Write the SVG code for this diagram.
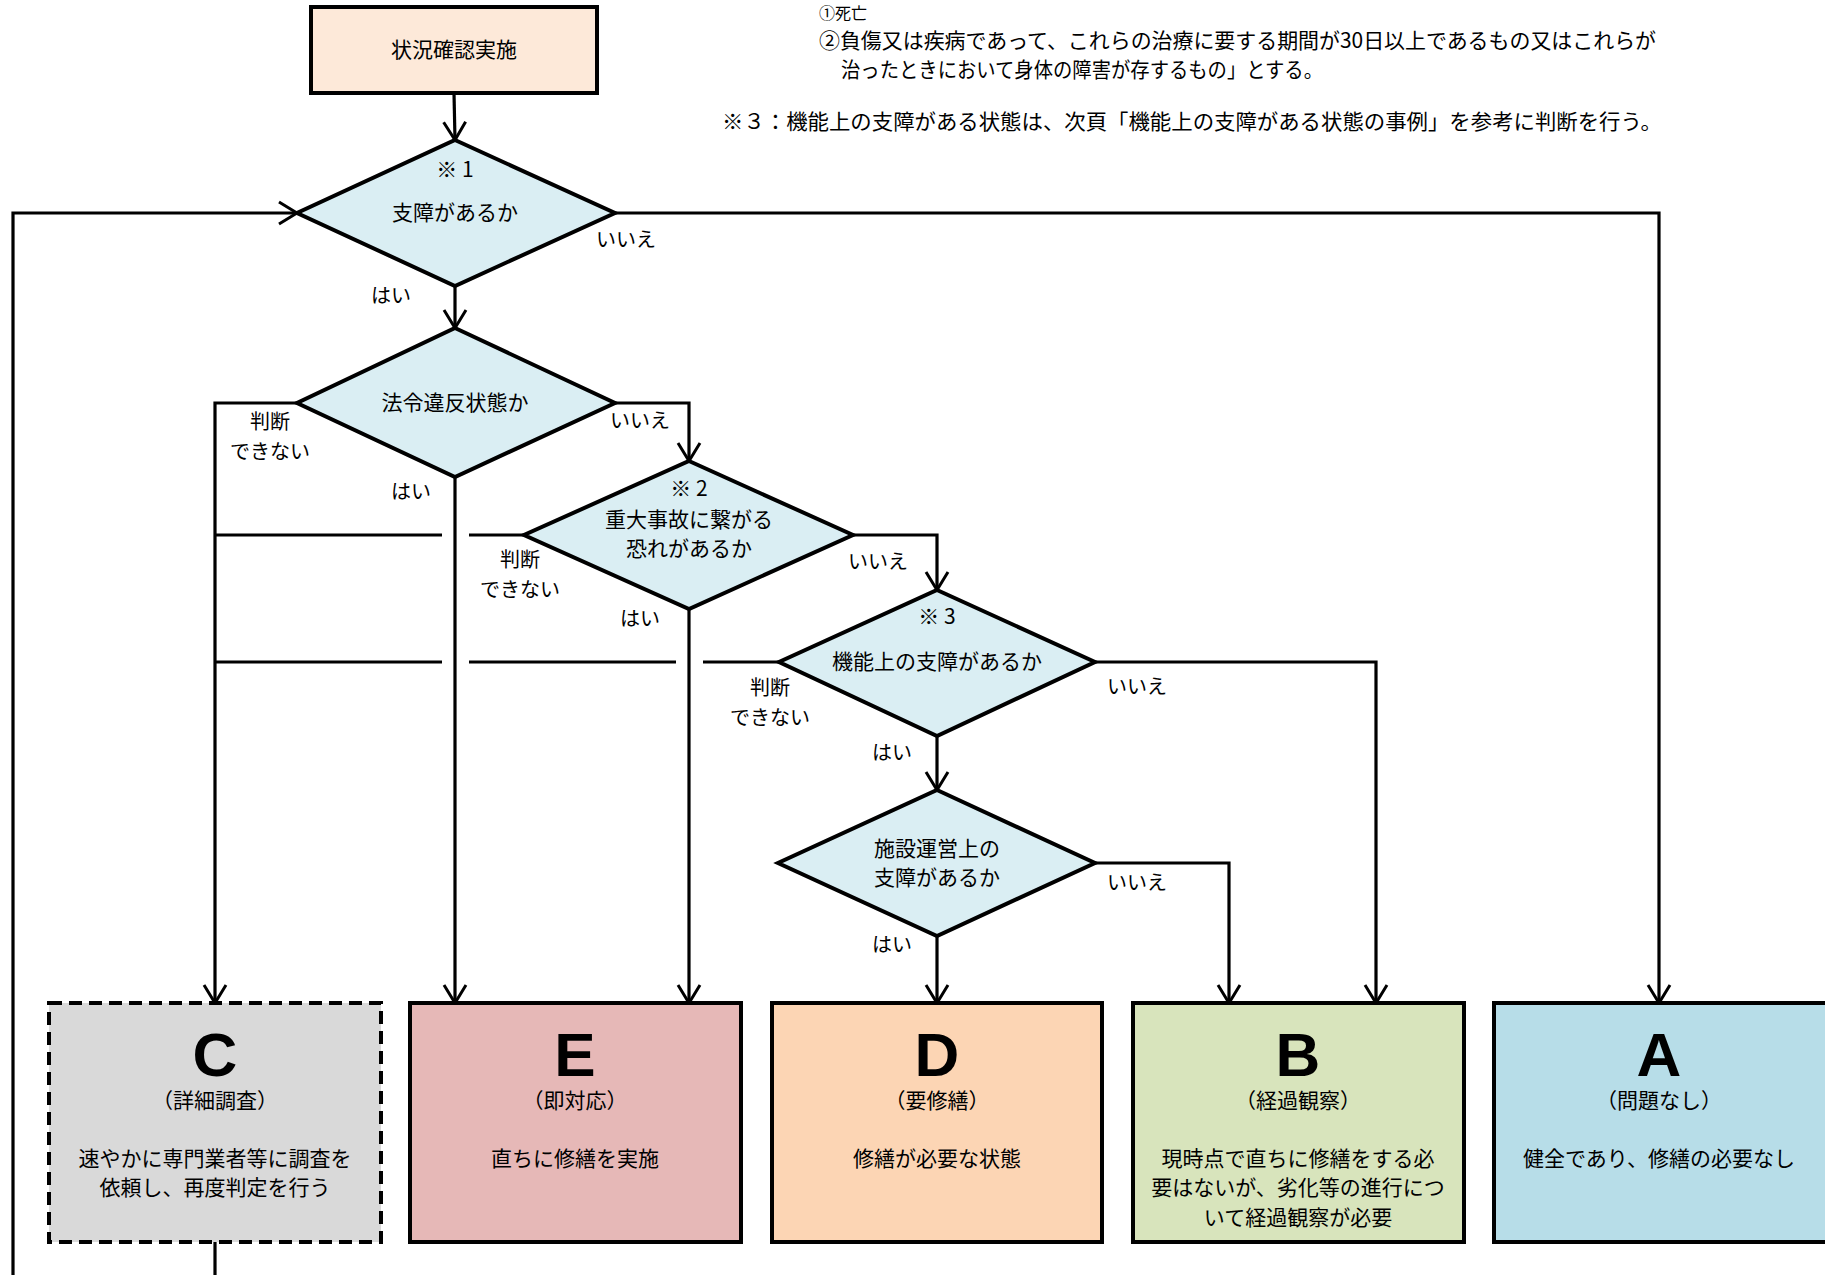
<svg xmlns="http://www.w3.org/2000/svg" width="1825" height="1275" viewBox="0 0 1825 1275">
<defs>
<style>
text{font-family:"Noto Sans CJK JP","Noto Sans",sans-serif;fill:#000;}
.t{font-size:21px;text-anchor:middle;}
.lb{font-size:20px;text-anchor:middle;}
.note{font-size:21px;}
.big{font-family:"Liberation Sans","DejaVu Sans",sans-serif;font-weight:bold;font-size:62px;text-anchor:middle;}
.dia{fill:#daeef3;stroke:#000;stroke-width:4;stroke-linejoin:miter;}
.box{stroke:#000;stroke-width:4;}
.c{fill:none;stroke:#000;stroke-width:3.2;}
</style>
<marker id="ar" viewBox="0 0 22 26" refX="20" refY="13" markerWidth="22" markerHeight="26" markerUnits="userSpaceOnUse" orient="auto">
<path d="M2,2 L20,13 L2,24" fill="none" stroke="#000" stroke-width="3"/>
</marker>
</defs>
<rect width="1825" height="1275" fill="#fff"/>

<g id="notes">
<text class="note" x="819" y="19" style="font-size:16px">①死亡</text>
<text class="note" x="819" y="48" textLength="837" lengthAdjust="spacingAndGlyphs">②負傷又は疾病であって、これらの治療に要する期間が30日以上であるもの又はこれらが</text>
<text class="note" x="841" y="77" textLength="482" lengthAdjust="spacingAndGlyphs">治ったときにおいて身体の障害が存するもの」とする。</text>
<text class="note" x="722" y="129" textLength="940" lengthAdjust="spacingAndGlyphs">※３：機能上の支障がある状態は、次頁「機能上の支障がある状態の事例」を参考に判断を行う。</text>
</g>

<g id="connectors">
<path class="c" d="M454,93 L455,140" marker-end="url(#ar)"/>
<path class="c" d="M455,286 L455,328" marker-end="url(#ar)"/>
<path class="c" d="M615,213 L1659,213 L1659,1003" marker-end="url(#ar)"/>
<path class="c" d="M297,403 L215,403 L215,1003" marker-end="url(#ar)"/>
<path class="c" d="M615,403 L689,403 L689,461" marker-end="url(#ar)"/>
<path class="c" d="M455,477 L455,1003" marker-end="url(#ar)"/>
<path class="c" d="M524,535 L469,535 M442,535 L215,535"/>
<path class="c" d="M853,535 L937,535 L937,590" marker-end="url(#ar)"/>
<path class="c" d="M689,609 L689,1003" marker-end="url(#ar)"/>
<path class="c" d="M779,662 L703,662 M676,662 L469,662 M442,662 L215,662"/>
<path class="c" d="M1095,662 L1376,662 L1376,1003" marker-end="url(#ar)"/>
<path class="c" d="M937,736 L937,790" marker-end="url(#ar)"/>
<path class="c" d="M1095,863 L1229,863 L1229,1003" marker-end="url(#ar)"/>
<path class="c" d="M937,936 L937,1003" marker-end="url(#ar)"/>
<path class="c" d="M215,1242 L215,1280"/>
<path class="c" d="M13,1280 L13,213 L297,213" marker-end="url(#ar)"/>
</g>

<g id="start">
<rect class="box" x="311" y="7" width="286" height="86" fill="#fde9d9"/>
<text class="t" x="454" y="57">状況確認実施</text>
</g>

<g id="d1">
<polygon class="dia" points="455,140 615,213 455,286 297,213"/>
<text class="t" x="455" y="177">※ 1</text>
<text class="t" x="455" y="220">支障があるか</text>
<text class="lb" x="626" y="247">いいえ</text>
<text class="lb" x="391" y="303">はい</text>
</g>

<g id="d2">
<polygon class="dia" points="455,328 615,403 455,477 297,403"/>
<text class="t" x="455" y="410">法令違反状態か</text>
<text class="lb" x="270" y="429">判断</text>
<text class="lb" x="270" y="459">できない</text>
<text class="lb" x="640" y="428">いいえ</text>
<text class="lb" x="411" y="499">はい</text>
</g>

<g id="d3">
<polygon class="dia" points="689,461 853,535 689,609 524,535"/>
<text class="t" x="689" y="496">※ 2</text>
<text class="t" x="689" y="527">重大事故に繋がる</text>
<text class="t" x="689" y="556">恐れがあるか</text>
<text class="lb" x="520" y="567">判断</text>
<text class="lb" x="520" y="597">できない</text>
<text class="lb" x="878" y="569">いいえ</text>
<text class="lb" x="640" y="626">はい</text>
</g>

<g id="d4">
<polygon class="dia" points="937,590 1095,662 937,736 779,662"/>
<text class="t" x="937" y="624">※ 3</text>
<text class="t" x="937" y="669">機能上の支障があるか</text>
<text class="lb" x="770" y="695">判断</text>
<text class="lb" x="770" y="725">できない</text>
<text class="lb" x="1137" y="694">いいえ</text>
<text class="lb" x="892" y="760">はい</text>
</g>

<g id="d5">
<polygon class="dia" points="937,790 1095,863 937,936 778,863"/>
<text class="t" x="937" y="856">施設運営上の</text>
<text class="t" x="937" y="885">支障があるか</text>
<text class="lb" x="1137" y="890">いいえ</text>
<text class="lb" x="892" y="952">はい</text>
</g>

<g id="boxC">
<rect class="box" x="49" y="1003" width="332" height="239" fill="#d9d9d9" stroke-dasharray="13 7"/>
<text class="big" x="215" y="1076">C</text>
<text class="t" x="215" y="1108">（詳細調査）</text>
<text class="t" x="215" y="1166">速やかに専門業者等に調査を</text>
<text class="t" x="215" y="1195">依頼し、再度判定を行う</text>
</g>

<g id="boxE">
<rect class="box" x="410" y="1003" width="331" height="239" fill="#e6b8b7"/>
<text class="big" x="575" y="1076">E</text>
<text class="t" x="575" y="1108">（即対応）</text>
<text class="t" x="575" y="1166">直ちに修繕を実施</text>
</g>

<g id="boxD">
<rect class="box" x="772" y="1003" width="330" height="239" fill="#fcd5b4"/>
<text class="big" x="937" y="1076">D</text>
<text class="t" x="937" y="1108">（要修繕）</text>
<text class="t" x="937" y="1166">修繕が必要な状態</text>
</g>

<g id="boxB">
<rect class="box" x="1133" y="1003" width="331" height="239" fill="#d8e4bc"/>
<text class="big" x="1298" y="1076">B</text>
<text class="t" x="1298" y="1108">（経過観察）</text>
<text class="t" x="1298" y="1166">現時点で直ちに修繕をする必</text>
<text class="t" x="1298" y="1195">要はないが、劣化等の進行につ</text>
<text class="t" x="1298" y="1225">いて経過観察が必要</text>
</g>

<g id="boxA">
<rect class="box" x="1494" y="1003" width="334" height="239" fill="#b7dde8"/>
<text class="big" x="1659" y="1076">A</text>
<text class="t" x="1659" y="1108">（問題なし）</text>
<text class="t" x="1659" y="1166">健全であり、修繕の必要なし</text>
</g>
</svg>
